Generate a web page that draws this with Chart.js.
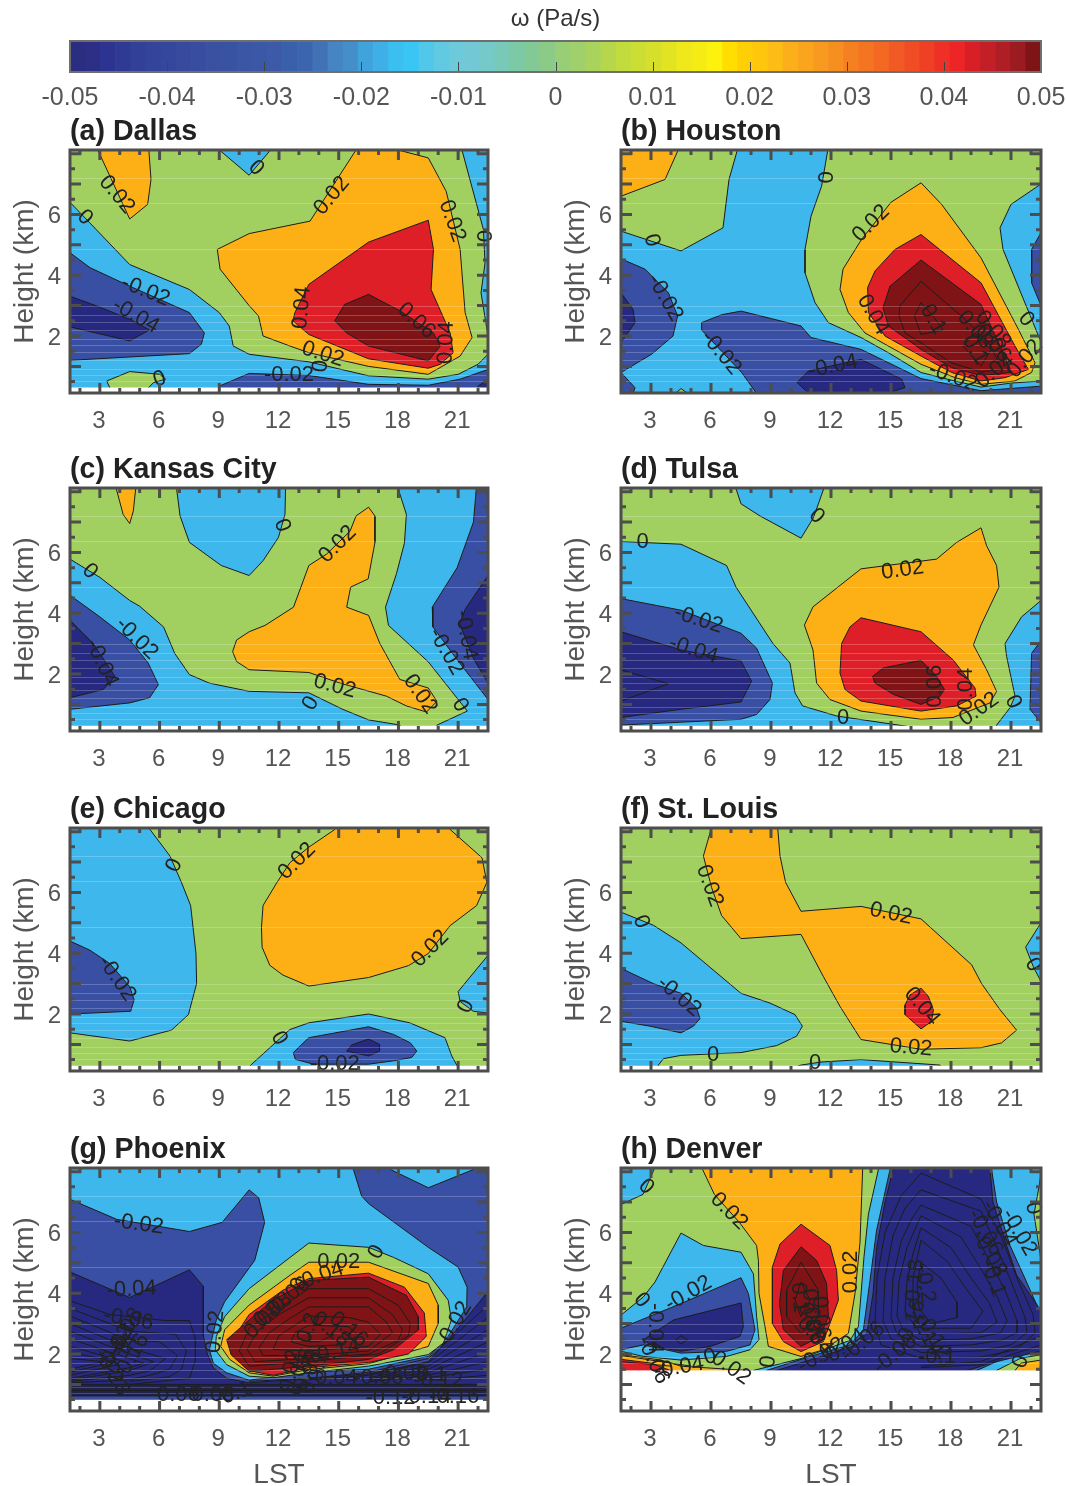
<!DOCTYPE html>
<html>
<head>
<meta charset="utf-8">
<title>omega contours</title>
<script src="https://cdn.jsdelivr.net/npm/chart.js@4"></script>
<style>
  html, body { margin: 0; padding: 0; background: #fff; }
  body { position: relative; width: 1067px; height: 1486px; overflow: hidden; }
  canvas { position: absolute; }
</style>
</head>
<body>
<canvas id="bar" width="1067" height="115" style="left:0;top:0"></canvas>
<canvas id="a" width="530" height="319" style="left:0;top:114px"></canvas>
<canvas id="b" width="516" height="319" style="left:551px;top:114px"></canvas>
<canvas id="c" width="530" height="319" style="left:0;top:452px"></canvas>
<canvas id="d" width="516" height="319" style="left:551px;top:452px"></canvas>
<canvas id="e" width="530" height="319" style="left:0;top:792px"></canvas>
<canvas id="f" width="516" height="319" style="left:551px;top:792px"></canvas>
<canvas id="g" width="530" height="357" style="left:0;top:1132px"></canvas>
<canvas id="h" width="516" height="357" style="left:551px;top:1132px"></canvas>
<script>
const hourTicks = [3, 6, 9, 12, 15, 18, 21];
const heightTicks = [2, 4, 6];
const hourMinor = [2, 3, 4, 5, 6, 7, 8, 9, 10, 11, 12, 13, 14, 15, 16, 17, 18, 19, 20, 21, 22];
const heightMinor = [0.5, 1, 1.5, 2, 2.5, 3, 3.5, 4, 4.5, 5, 5.5, 6, 6.5, 7, 7.5, 8];
const seamHeights = [7.2, 6.36, 4.85, 3, 2.7, 2.46, 2.2, 1.9, 1.7, 1.48, 1.2, 0.92, 0.72, 0.52];

const barTicks = [-0.05, -0.04, -0.03, -0.02, -0.01, 0, 0.01, 0.02, 0.03, 0.04, 0.05];
const barTickLabels = ["-0.05", "-0.04", "-0.03", "-0.02", "-0.01", "0", "0.01", "0.02", "0.03", "0.04", "0.05"];
const barColors = [
  "#2b2e80", "#2c2f85", "#2d3391", "#2f3a94", "#324097", "#34449a", "#35479c", "#374a9e",
  "#384da0", "#3a50a1", "#3953a3", "#3a56a5", "#3b58a7", "#3c5aa8", "#3a5fab", "#3b66af",
  "#4072b5", "#4585c3", "#448fca", "#41a3dc", "#3fb0e7", "#3bbef0", "#39c6f4", "#51c7e9",
  "#62c9e3", "#6ccadb", "#72c8d4", "#75c9c8", "#78c9b7", "#7cc9a6", "#82c996", "#8bcb87",
  "#97ce76", "#9fd06b", "#a9d35d", "#b6d74c", "#c2db3d", "#ccde34", "#d6e02b", "#e2e421",
  "#efe81b", "#f6ec15", "#fdf10e", "#ffde00", "#ffcf06", "#fec70e", "#fdbd16", "#fbb01b",
  "#fba51f", "#f99a20", "#f78e20", "#f58021", "#f47421", "#f36823", "#f15a24", "#f04d24",
  "#ef3f25", "#ee3026", "#ed2527", "#d91f26", "#c31f26", "#ae1e24", "#9a1b20", "#7f1416"
];

// contour bands: upper limit of each band and its fill
const bandLimits = [-0.04, -0.02, 0, 0.02, 0.04, 0.06, 1];
const bandFills = ["#26297f", "#394fa3", "#3db7ec", "#a2d060", "#fdb015", "#df1f27", "#7f1315"];

// each region: [value inside, [hour, km, hour, km, ...]]
const dallasRegions = [
  [0.01, [1.2, 0, 22.8, 0, 22.8, 8.4, 1.2, 8.4]],
  [-0.01, [1.2, 6.4, 1.5, 6.4, 2.5, 5.72, 4.5, 4.35, 7.5, 3.53, 9, 2.77, 9.5, 2.33, 9.7, 1.67, 10.5, 1.4, 13.5, 1.15, 16.5, 0.69, 19.5, 0.58, 21, 0.74, 22, 1.07, 22.5, 1.4, 22.8, 1.4, 22.8, 0, 1.2, 0]],
  [0.01, [3.35, 0.52, 4.5, 0.83, 6, 0.74, 6.3, 0.58, 5.7, 0.47, 5, 0, 3.7, 0]],
  [-0.01, [21.1, 8.4, 21.2, 8.1, 22.27, 5.5, 22.35, 4.4, 22.15, 3.42, 22.5, 2, 22.8, 2, 22.8, 8.4]],
  [-0.01, [8.7, 8.4, 9.04, 8.1, 10.5, 7.29, 11.55, 8.1, 11.9, 8.4]],
  [-0.03, [1.2, 4.74, 1.5, 4.74, 2.5, 4.25, 4.5, 3.64, 7.5, 2.77, 8.25, 2.1, 8.1, 1.73, 7.5, 1.42, 1.5, 1.2, 1.2, 1.2]],
  [-0.05, [1.2, 3.31, 1.5, 3.31, 3, 2.95, 4.5, 2.55, 5.5, 2.2, 4.5, 1.84, 1.5, 2.3, 1.2, 2.3]],
  [-0.03, [8.7, 0, 9, 0.35, 10.5, 0.77, 13.5, 0.7, 16.5, 0.41, 19.5, 0.38, 21.1, 0.58, 22.5, 0.9, 22.8, 0.9, 22.8, 0]],
  [-0.05, [21.8, 0, 22, 0.35, 22.5, 0.58, 22.8, 0.58, 22.8, 0]],
  [0.03, [2.7, 8.4, 4.5, 5.85, 5.4, 6.33, 5.57, 7.15, 5.43, 8.4]],
  [0.03, [15.7, 8.4, 18, 8.4, 18.1, 8.1, 19.5, 7.86, 20.4, 6.76, 21.1, 4.85, 21.35, 2.77, 21.7, 1.95, 21.1, 1.34, 19.5, 0.74, 16.5, 1, 13.5, 1.45, 12.55, 1.67, 11.2, 2, 10.97, 2.66, 10.5, 3, 9.04, 4.2, 8.9, 4.85, 10.5, 5.37, 13.56, 5.78, 15.85, 8.1]],
  [0.05, [19.5, 5.81, 16.5, 5.09, 13.5, 3.7, 12.8, 2.77, 12.7, 2.5, 13.5, 2.05, 16.5, 1.25, 19.5, 0.94, 20.1, 1.07, 20.75, 1.45, 20.6, 2.1, 19.64, 3.53, 19.76, 4.85]],
  [0.07, [16.5, 3.37, 15.3, 3.04, 14.8, 2.5, 15.4, 2.1, 16.5, 1.67, 19.5, 1.18, 20.1, 1.67, 19.76, 2.1, 18.1, 2.82]]
];
const dallasLabels = [
  [3.85, 6.65, "0.02", 50], [2.25, 5.9, "0", 45], [10.85, 7.53, "0", 45], [14.65, 6.62, "0.02", -50],
  [20.7, 5.78, "0.02", 70], [22.27, 5.29, "0", 90], [13.15, 2.93, "0.04", -85], [5.3, 3.48, "-0.02", 22],
  [4.8, 2.66, "-0.04", 30], [18.9, 2.5, "0.06", 42], [20.4, 1.78, "0.04", -88], [14.2, 1.4, "0.02", 18],
  [14.1, 1.01, "0", -85], [12.5, 0.71, "-0.02", 0], [6, 0.58, "0", -20]
];

const houstonRegions = [
  [-0.01, [1.2, 0, 22.8, 0, 22.8, 8.4, 1.2, 8.4]],
  [0.01, [1.2, 5.5, 1.5, 5.45, 4.5, 4.8, 6.6, 5.56, 6.9, 7.15, 7.3, 8.08, 7.4, 8.4, 1.2, 8.4]],
  [0.01, [11.85, 8.4, 11.83, 8.08, 11.53, 6.93, 11, 5.94, 10.7, 4.85, 10.7, 4.08, 11.2, 3.1, 11.87, 2.44, 13.5, 1.95, 14.87, 1.45, 16.5, 0.8, 18, 0.55, 19.5, 0.32, 21, 0.45, 22.5, 0.52, 22.8, 0.52, 22.8, 1.8, 22.5, 1.8, 20.6, 4.85, 20.45, 5.56, 21, 6.33, 22.5, 7, 22.8, 7, 22.8, 8.4]],
  [0.01, [4.2, 0.1, 4.5, 0.27, 4.87, 0.1]],
  [0.03, [1.2, 6.63, 1.5, 6.6, 3.7, 7.15, 4.55, 8.4, 1.2, 8.4]],
  [0.03, [16.5, 7.04, 17.53, 6.33, 19.5, 4.57, 21.37, 2.22, 22.2, 1.12, 22.03, 0.8, 21.2, 0.52, 19.5, 0.41, 18.2, 0.63, 16.5, 1.07, 13.7, 2.1, 12.87, 2.77, 12.45, 3.53, 12.6, 4.2, 13.53, 5.18, 15, 6.4]],
  [0.05, [16.5, 5.34, 15.2, 4.85, 14.2, 4.14, 13.83, 3.59, 13.87, 2.77, 14.7, 2, 16.5, 1.34, 18.03, 0.8, 19.5, 0.52, 20.7, 0.63, 21.87, 0.9, 21.2, 1.67, 19.5, 3.75]],
  [0.07, [16.5, 4.5, 14.95, 3.64, 14.6, 2.93, 14.87, 2.33, 16.5, 1.56, 18.03, 0.96, 19.5, 0.7, 21.03, 0.8, 20.53, 1.56, 19.5, 3.04]],
  [0.09, [16.5, 3.8, 15.45, 3, 15.4, 2.66, 15.7, 2.1, 16.5, 1.78, 18, 1.12, 19.5, 0.82, 20.53, 0.9, 20, 1.67, 18.7, 2.55]],
  [0.1, [16.5, 3.1, 17.1, 2.66, 17.6, 2.2, 16.5, 2.05, 16.17, 2.66]],
  [0.1, [18.6, 1.67, 19.5, 1.01, 20, 1.56, 19.2, 2.1]],
  [-0.03, [1.2, 4.54, 1.5, 4.54, 2.7, 4.2, 3.87, 3.42, 4.33, 2.66, 4.1, 2, 3.03, 1.4, 1.5, 0.8, 2.2, 0.3, 2.05, 0, 1.2, 0]],
  [-0.05, [1.2, 3.42, 1.5, 3.42, 2.1, 2.88, 2.2, 2.44, 1.5, 1.78, 1.2, 1.78]],
  [-0.03, [5.53, 2.44, 6.53, 2.7, 7.5, 2.82, 10.5, 2.33, 11, 1.95, 13.5, 1.56, 16.5, 0.6, 19.5, 0.2, 22.5, 0.35, 22.8, 0.35, 22.8, 0, 8.4, 0, 7.53, 0.8, 5.53, 2.2]],
  [-0.05, [10.3, 0.47, 10.87, 0.85, 13.5, 1.23, 15.53, 0.58, 15.7, 0.3, 14.87, 0.13, 10.87, 0.13]],
  [-0.03, [22.8, 5.4, 22.5, 5.4, 22.03, 4.85, 22.03, 3.75, 22.5, 3, 22.8, 3]]
];
const houstonLabels = [
  [11.67, 7.22, "0", 90], [3.03, 5.15, "0", 75], [14, 5.7, "0.02", -45], [3.7, 3.26, "-0.02", 60],
  [6.5, 1.45, "-0.02", 50], [14.1, 2.7, "0.04", 60], [12.1, 1, "-0.04", -12], [17.1, 2.55, "0.1", 60],
  [18.1, 0.65, "-0.02", 20], [19.2, 2.2, "0.08", 50], [19.2, 1.55, "0.1", 60], [20.1, 1.75, "0.06", 50],
  [20.1, 2.2, "0.08", 50], [20.2, 0.85, "0.04", -40], [21.7, 1.25, "0.02", -50], [21.75, 2.55, "0", 50]
];

const kansasRegions = [
  [0.01, [1.2, 0, 22.8, 0, 22.8, 8.4, 1.2, 8.4]],
  [-0.01, [1.2, 5.78, 1.5, 5.78, 3, 5.18, 4.5, 4.42, 5, 4.23, 6.2, 3.55, 6.76, 2.68, 7.5, 1.98, 8.5, 1.7, 10.5, 1.43, 13.5, 1.38, 15.2, 0.84, 16.5, 0.49, 18.08, 0.32, 18.2, 0, 1.2, 0]],
  [-0.01, [18, 8.4, 18, 8.07, 18.4, 7.25, 18.3, 6.3, 17.9, 5.3, 17.35, 4.2, 17.5, 3.6, 19.5, 2.4, 21.46, 0.78, 19.94, 0.32, 19.7, 0, 22.8, 0, 22.8, 8.4]],
  [-0.01, [6.8, 8.4, 6.86, 8.07, 7.03, 7.2, 7.5, 6.33, 9.1, 5.57, 10.5, 5.24, 11.2, 5.73, 11.97, 6.49, 12.3, 7.25, 12.34, 8.4]],
  [0.03, [3.7, 8.4, 4.17, 7.25, 4.5, 6.95, 4.68, 7.36, 4.85, 8.4]],
  [0.03, [16.5, 7.49, 16.82, 7.2, 16.82, 6.33, 16.48, 5.13, 15.6, 4.86, 15.4, 4.2, 16.5, 3.93, 17.07, 3, 18.07, 1.82, 19.5, 1.54, 19.93, 1.1, 19.41, 0.75, 18.4, 0.95, 17.4, 1.27, 15.07, 1.7, 13.5, 2.05, 10.5, 2.14, 9.87, 2.41, 9.67, 2.74, 9.87, 3.12, 10.5, 3.39, 11.3, 3.6, 12.73, 4.2, 13.5, 5.57, 14.4, 5.95, 15.57, 6.7, 15.87, 7.2]],
  [-0.03, [1.2, 4.59, 1.5, 4.59, 3, 3.88, 4.5, 3.12, 5.43, 2.36, 5.94, 1.65, 5.5, 1.22, 4.5, 1.05, 1.5, 0.84, 1.2, 0.84]],
  [-0.05, [1.2, 3.77, 1.5, 3.77, 2.67, 3, 3.76, 1.92, 3.17, 1.49, 1.5, 1.22, 1.2, 1.22]],
  [-0.03, [21.95, 8.4, 21.77, 7, 20.95, 5.5, 19.7, 4.2, 19.73, 3.55, 20.95, 2.47, 22.5, 1.16, 22.8, 1.16, 22.8, 8.4]],
  [-0.05, [22.8, 5.24, 22.5, 5.24, 21.37, 4.15, 21.07, 3.66, 21.8, 2.47, 22.5, 1.7, 22.8, 1.7]]
];
const kansasLabels = [
  [2.5, 5.38, "0", 45], [12.15, 6.89, "0", 70], [14.95, 6.27, "0.02", -45], [4.85, 3.17, "-0.02", 45],
  [3.1, 2.36, "-0.04", 65], [14.8, 1.6, "0.02", 15], [13.6, 1.03, "0", -60], [19.1, 1.33, "0.02", 55],
  [21.1, 0.98, "0", 60], [20.4, 2.74, "-0.02", 60], [21.4, 3.28, "-0.04", 80]
];

const tulsaRegions = [
  [0.01, [1.2, 0, 22.8, 0, 22.8, 8.4, 1.2, 8.4]],
  [-0.01, [1.2, 6.36, 1.5, 6.36, 4.5, 6.27, 6.78, 5.57, 7.25, 4.86, 9.1, 3, 9.95, 2.36, 10.2, 1.38, 10.58, 0.95, 12.28, 0.62, 13.5, 0.5, 15.8, 0.28, 16, 0, 1.2, 0]],
  [-0.01, [7.1, 8.4, 7.5, 7.6, 8.45, 7.2, 10.5, 6.47, 11.12, 7.14, 11.8, 8.4]],
  [-0.01, [22.8, 4.42, 22.5, 4.42, 21.53, 3.88, 20.7, 3, 20.78, 2.58, 21.2, 1.27, 20.95, 0.89, 20.28, 0.32, 20.1, 0, 22.8, 0]],
  [-0.03, [22.8, 3.1, 22.5, 3.1, 22.03, 2.68, 21.95, 0.84, 22.5, 0.4, 22.8, 0.4]],
  [-0.03, [1.2, 4.48, 1.5, 4.48, 4.5, 4.1, 7.5, 3.34, 8.28, 2.85, 9.07, 1.7, 8.95, 1.16, 8.28, 0.67, 7.5, 0.51, 1.5, 0.32, 1.2, 0.32]],
  [-0.05, [1.2, 3.39, 1.5, 3.39, 4.5, 2.79, 7.5, 2.43, 8.03, 1.76, 7.5, 1.08, 4.5, 0.84, 1.5, 0.57, 1.2, 0.57]],
  [-0.06, [1.2, 2.14, 1.5, 2.14, 3.87, 1.68, 1.5, 1.11, 1.2, 1.11]],
  [0.03, [19.5, 6.81, 18.28, 6.33, 17.28, 5.78, 13.5, 5.46, 11.1, 4.21, 10.67, 3.61, 11.1, 2.79, 11.28, 1.7, 11.95, 1.16, 13.5, 0.78, 16.5, 0.51, 18.1, 0.57, 19.95, 1.05, 20.28, 1.43, 19.78, 2.14, 19.12, 2.96, 19.5, 3.61, 20.4, 4.86, 20.28, 5.57, 19.78, 6.22]],
  [0.05, [13.5, 3.85, 12.95, 3.55, 12.53, 3, 12.45, 2.03, 12.7, 1.49, 13.5, 1.11, 16.5, 0.78, 18.28, 0.95, 19.25, 1.27, 19.2, 1.54, 18.1, 2.47, 16.5, 3.39]],
  [0.07, [14.08, 1.92, 14.62, 2.2, 16.5, 2.45, 17.28, 1.92, 17.67, 1.49, 17.45, 1.27, 16.5, 1, 15.12, 1.33, 14.2, 1.7]]
];
const tulsaLabels = [
  [11.28, 7.2, "0", 45], [2.58, 6.33, "0", 0], [15.58, 5.42, "0.02", -8], [5.37, 3.79, "-0.02", 18],
  [5.12, 2.79, "-0.04", 18], [17.2, 1.6, "0.06", -90], [18.75, 1.5, "0.04", -90], [19.4, 0.84, "0.02", -35],
  [21.1, 1.08, "0", 65], [12.6, 0.57, "0", 0]
];

const chicagoRegions = [
  [0.01, [1.2, 0, 22.8, 0, 22.8, 8.4, 1.2, 8.4]],
  [-0.01, [5.3, 8.4, 5.52, 8.07, 6.52, 7.2, 7.1, 6.33, 7.56, 5.57, 7.83, 3.99, 7.86, 3, 7.45, 1.98, 6.6, 1.47, 4.5, 1.11, 1.5, 1.38, 1.2, 1.38, 1.2, 8.4]],
  [-0.03, [1.2, 4.4, 1.5, 4.4, 2.5, 4.1, 3.5, 3.66, 4.5, 2.9, 4.72, 2.47, 4.55, 2.09, 1.5, 2, 1.2, 2]],
  [0.03, [14.6, 8.4, 14.8, 8.07, 13.5, 7.49, 12.55, 6.98, 11.9, 6.33, 11.2, 5.57, 11.12, 4.86, 11.15, 4.2, 11.54, 3.6, 12.2, 3.28, 13.5, 2.92, 16.5, 3.2, 18.5, 3.59, 19.5, 3.99, 20.6, 4.91, 21.93, 5.57, 22.44, 6.33, 22.2, 7.14, 20.6, 8.07, 20.5, 8.4]],
  [-0.01, [22.8, 3.93, 22.5, 3.93, 21, 2.74, 21.1, 2.41, 21.76, 2.09, 22.5, 2.03, 22.8, 2.03]],
  [-0.01, [10.3, 0, 10.58, 0.32, 12.55, 1.49, 13.5, 1.71, 16.5, 2, 18.57, 1.71, 20.34, 1.22, 20.68, 0.62, 20.93, 0.32, 21, 0]],
  [-0.03, [12.72, 0.73, 13.06, 0.95, 13.5, 1.22, 16.5, 1.58, 17.75, 1.33, 18.6, 1.05, 18.92, 0.78, 18.67, 0.57, 17.75, 0.46, 16.5, 0.35, 13.73, 0.35, 12.82, 0.51]],
  [-0.05, [15.4, 0.78, 15.65, 0.98, 16.5, 1.18, 17.05, 1, 17.05, 0.78, 16.5, 0.62]]
];
const chicagoLabels = [
  [6.74, 6.89, "0", -65], [12.9, 7.03, "0.02", -45], [3.85, 3.17, "-0.02", 55], [19.6, 4.15, "0.02", -45],
  [21.4, 2.25, "0", -65], [12, 1.2, "0", 60], [14.8, 0.35, "-0.02", 0]
];

const stLouisRegions = [
  [0.01, [1.2, 0, 22.8, 0, 22.8, 8.4, 1.2, 8.4]],
  [-0.01, [1.2, 5.35, 1.5, 5.35, 3.12, 4.92, 4.5, 4.34, 7.5, 2.68, 8.95, 2.36, 10.2, 1.98, 10.57, 1.6, 10.28, 1.27, 9.28, 0.96, 7.5, 0.73, 4.5, 0.64, 3.62, 0.53, 3.37, 0.32, 3.3, 0, 1.2, 0]],
  [-0.03, [1.2, 3.5, 1.5, 3.5, 3.12, 3, 4.5, 2.68, 5.28, 2.2, 5.45, 1.85, 5.12, 1.6, 4.5, 1.38, 2.95, 1.6, 1.5, 1.76, 1.2, 1.76]],
  [0.03, [5.95, 8.4, 6, 8.07, 5.62, 7.2, 6.03, 6.16, 6.53, 5.24, 7.5, 4.48, 10.5, 4.62, 11.62, 3.23, 12.45, 2.25, 13.5, 1.16, 16.5, 0.84, 19.5, 0.89, 20.53, 1.05, 21.28, 1.47, 20.45, 2.14, 19.53, 3, 19.03, 3.62, 16.5, 5.13, 13.5, 5.54, 10.5, 5.38, 9.73, 6.33, 9.45, 7.2, 9.3, 8.4]],
  [0.05, [16.5, 2.85, 15.95, 2.63, 15.7, 2.3, 15.7, 1.98, 16.5, 1.51, 17.03, 1.76, 17.12, 2.14, 16.87, 2.58]],
  [-0.01, [22.8, 5, 22.5, 5, 21.73, 4.2, 22.12, 3.55, 22.5, 3.07, 22.8, 3.07]],
  [-0.01, [9.8, 0.15, 10.5, 0.32, 11.5, 0.42, 13.5, 0.5, 17.45, 0.32, 17.6, 0, 9.8, 0]]
];
const stLouisLabels = [
  [5.93, 6.22, "0.02", 70], [2.5, 5.04, "0", 70], [15, 5.3, "0.02", 12], [4.4, 2.58, "-0.02", 40],
  [6.1, 0.64, "0", 0], [11.2, 0.4, "0", 0], [16.55, 2.25, "0.04", 50], [16, 0.89, "0.02", 5], [22.1, 3.62, "0", 60]
];

const phoenixRegions = [
  [-0.03, [1.2, 0, 22.8, 0, 22.8, 8.4, 1.2, 8.4]],
  [-0.01, [1.2, 7.09, 1.5, 7.09, 3.85, 6.43, 7.5, 6.03, 9.14, 6.33, 10.5, 7.4, 10.98, 7.14, 11.28, 6.33, 10.78, 5.08, 9.27, 3.72, 8.85, 3.12, 8.5, 2.14, 8.7, 1.7, 9.37, 1.38, 10.5, 1.14, 13.5, 1.4, 16.5, 1.5, 19.5, 1.92, 20.5, 2.58, 21.43, 3.55, 21.45, 4.2, 21, 4.86, 19.5, 5.51, 16.5, 6.95, 16.15, 7.2, 15.74, 8.07, 15.7, 8.4, 1.2, 8.4]],
  [-0.01, [17.4, 8.4, 17.6, 8.07, 19.5, 7.47, 21.77, 8.07, 22, 8.4]],
  [0.01, [13.5, 5.65, 16.5, 5.51, 17.75, 5.18, 19.5, 4.64, 20.5, 3.77, 20.66, 3.12, 20.26, 2.36, 19.5, 1.98, 16.5, 1.6, 13.5, 1.38, 11.7, 1.22, 10.5, 1.27, 9.37, 1.65, 8.8, 2.14, 8.85, 2.58, 9.27, 3.23, 10.5, 4.15]],
  [0.03, [13.5, 5.02, 16.5, 5.02, 19.5, 4.32, 20, 3.61, 20, 3.01, 19.5, 2.25, 16.5, 1.68, 13.5, 1.49, 11.7, 1.27, 10.5, 1.38, 9.53, 1.82, 9.07, 2.25, 9.27, 2.8, 10.5, 3.61, 12.55, 4.59]],
  [0.05, [13.5, 4.48, 16.5, 4.66, 18.3, 4.2, 19.3, 3.35, 19.4, 2.58, 18.5, 2, 16.5, 1.72, 13.5, 1.55, 11.7, 1.3, 10.5, 1.45, 9.6, 2, 9.75, 2.55, 10.5, 3.3, 12.2, 4.1]],
  [0.07, [13.5, 4.42, 16.5, 4.53, 18.4, 3.93, 19, 3.23, 19, 2.79, 17.75, 2.14, 16.5, 1.82, 13.5, 1.6, 10.5, 1.43, 9.6, 1.97, 9.37, 2.47, 10.5, 3.12, 11.7, 3.77]],
  [0.08, [13.5, 4.15, 16.5, 4.15, 18, 3.6, 18.6, 3, 18.5, 2.6, 17, 2, 13.5, 1.75, 10.5, 1.6, 10, 2.1, 10.5, 2.85, 12, 3.5]],
  [0.1, [13.5, 3.85, 16.5, 3.85, 17.7, 3.3, 18.2, 2.8, 18, 2.45, 16.5, 2, 13.5, 1.85, 10.8, 1.75, 10.4, 2.15, 10.9, 2.75, 12, 3.3]],
  [0.12, [13.5, 3.55, 16.5, 3.55, 17.4, 3.05, 17.7, 2.7, 16.5, 2.1, 13.5, 1.95, 11.2, 1.95, 11, 2.2, 11.5, 2.7, 12.5, 3.15]],
  [0.14, [13.5, 3.25, 15.5, 3.2, 16.5, 3.05, 17.1, 2.65, 16.5, 2.25, 13.5, 2.1, 11.7, 2.15, 12, 2.6]],
  [0.16, [13.5, 2.95, 15.5, 2.9, 16, 2.6, 15, 2.3, 13.5, 2.25, 12.6, 2.4, 12.8, 2.7]],
  [0.18, [13.5, 2.7, 14.8, 2.65, 14, 2.4, 13.5, 2.4]],
  [-0.05, [1.2, 4.7, 1.5, 4.7, 4.5, 3.86, 7.5, 4.77, 8.2, 4.23, 8.2, 2.6, 8.4, 2, 8.7, 1.55, 9.37, 1.2, 10.5, 1.05, 13.5, 1.2, 16.5, 1.35, 19.5, 1.75, 21, 2.85, 22.5, 4.06, 22.8, 4.06, 22.8, 0, 1.2, 0]],
  [-0.03, [1.2, 0.62, 22.8, 0.62, 22.8, 0.4, 1.2, 0.4]]
];
const phoenixLines = [
  [1.5, 3.75, 3.5, 3.3, 6.3, 3.1, 7.5, 3.1, 7.8, 2.5, 7.8, 1.8, 7.5, 1.2, 4.5, 1],
  [1.5, 3.5, 4.5, 2.75, 6.8, 2.65, 7.35, 2.1, 7.1, 1.5, 6.5, 1.25, 4.5, 1.1],
  [1.5, 3.25, 4.5, 2.45, 6, 2.4, 6.9, 1.95, 6.5, 1.5, 5.5, 1.3, 4.5, 1.15, 1.5, 1.05],
  [1.5, 3, 4.5, 2.2, 6.3, 1.85, 5.5, 1.45, 4.5, 1.3, 1.5, 1.1],
  [1.5, 2.75, 4.5, 2, 5.7, 1.75, 4.5, 1.45, 1.5, 1.15],
  [1.5, 2.5, 4.5, 1.85, 5.2, 1.7, 4.5, 1.55, 1.5, 1.2],
  [1.5, 2.25, 4.4, 1.72, 1.5, 1.3],
  [1.5, 2.05, 3.8, 1.75, 1.5, 1.4],
  [1.5, 1.85, 3.2, 1.75, 1.5, 1.5],
  [22.5, 3.6, 19.5, 1.85, 16.5, 1.4, 13.5, 1.2, 10.5, 1.1],
  [22.5, 3.2, 19.5, 1.72, 16.5, 1.3, 13.5, 1.15],
  [22.5, 2.8, 19.5, 1.6, 16.5, 1.22],
  [22.5, 2.4, 19.5, 1.5, 16.5, 1.17],
  [22.5, 2.05, 19.5, 1.4, 16.5, 1.12],
  [22.5, 1.75, 19.5, 1.3, 16.5, 1.08],
  [22.5, 1.5, 19.5, 1.22],
  [22.5, 1.3, 19.5, 1.14],
  [1.5, 1, 22.5, 1], [1.5, 0.95, 22.5, 0.95], [1.5, 0.9, 22.5, 0.9], [1.5, 0.85, 22.5, 0.85],
  [1.5, 0.8, 22.5, 0.8], [1.5, 0.75, 22.5, 0.75], [1.5, 0.7, 22.5, 0.7], [1.5, 0.65, 22.5, 0.65]
];
const phoenixLabels = [
  [4.95, 6.27, "-0.02", 8], [4.6, 4.12, "-0.04", -3], [4.43, 3.14, "-0.06", 10], [4.3, 2.75, "-0.08", -60],
  [4.1, 2.5, "-0.1", -60], [3.8, 2.2, "-0.12", -60], [4, 1.9, "-0.14", -60], [4.6, 1.9, "-0.16", -60], [3.6, 1.4, "-0.23", 60],
  [8.8, 2.74, "0.02", -85], [20.8, 2.96, "-0.02", -60], [16.9, 5.35, "0", -60], [15, 5.02, "0.02", 0],
  [13, 4.3, "0", -70], [14.2, 4.6, "0.04", -20], [12.6, 3.95, "0.06", -40], [11.7, 3.45, "0.08", -40],
  [11.2, 3.1, "0.08", -45], [13.5, 2.85, "0.2", -70], [14.6, 2.8, "0.18", 40], [15.5, 2.8, "0.16", 40],
  [15, 2.1, "0.14", -15], [12.6, 1.45, "0.02", -80], [13, 1.35, "0.04", -80], [13.3, 1.5, "0.06", -80],
  [13.6, 1.4, "0.08", -80], [14, 1.6, "0.1", -80], [14.7, 1.2, "-0.04", 0], [17, 1.2, "-0.06", 0],
  [18.2, 1.35, "-0.08", 0], [19.5, 1.3, "-0.1", 0], [20, 1.1, "-0.12", 0], [6.76, 0.64, "-0.06", 0],
  [8.5, 0.64, "-0.08", 0], [9.7, 0.67, "-0.1", -20], [17.6, 0.55, "-0.12", 0], [19.4, 0.58, "-0.14", 0], [20.8, 0.58, "-0.16", 0]
];

const denverRegions = [
  [0.01, [1.2, 0, 22.8, 0, 22.8, 8.4, 1.2, 8.4]],
  [-0.01, [1.2, 6.92, 1.5, 6.92, 2.6, 7.25, 3.15, 8.07, 3.2, 8.4, 1.2, 8.4]],
  [0.03, [5.45, 8.4, 5.58, 8.07, 6.17, 7.25, 7.42, 6.33, 8.28, 5.57, 8.37, 5.08, 8.4, 3.99, 8.7, 2.9, 8.87, 2.25, 10.5, 1.92, 11.62, 2.14, 12.87, 2.68, 13.2, 3.99, 13.45, 5.67, 13.6, 8.4]],
  [0.05, [10.5, 6.27, 9.45, 5.62, 9.07, 4.86, 9.07, 3, 9.62, 2.41, 10.5, 2.08, 11.62, 2.41, 12.37, 3.77, 12.28, 4.75, 11.95, 5.57]],
  [0.07, [10.5, 5.53, 9.62, 4.75, 9.42, 3.66, 9.62, 2.8, 10.5, 2.25, 11.45, 2.58, 11.87, 3.23, 11.78, 4.32, 11.28, 5.08]],
  [0.09, [10.5, 5.02, 9.78, 4.1, 9.78, 3.23, 10.5, 2.68, 11.37, 3.23, 11.37, 4.1]],
  [0.1, [10.5, 4.37, 10.2, 3.77, 10.5, 3.23, 10.95, 3.77]],
  [-0.01, [1.2, 3.28, 1.5, 3.28, 2.62, 3.88, 3.2, 4.37, 4.5, 5.98, 5.62, 5.57, 7.5, 5.35, 8.12, 4.64, 8.28, 3.23, 8.4, 2.47, 7.95, 2.14, 6.78, 1.92, 4.5, 1.8, 2.62, 1.92, 1.5, 2.09, 1.2, 2.09]],
  [-0.03, [1.2, 2.85, 1.5, 2.85, 4.5, 3.66, 7.5, 4.51, 7.87, 3.99, 8.2, 2.8, 7.95, 2.3, 6.78, 2.09, 4.5, 2.03, 2.62, 2.3, 1.5, 2.14, 1.2, 2.14]],
  [-0.05, [2.62, 2.47, 4.12, 3.12, 7.5, 3.68, 7.62, 2.9, 7.45, 2.58, 5.95, 2.25, 4.5, 2.09, 3.12, 2.25]],
  [-0.06, [4.23, 2.47, 4.5, 2.6, 4.82, 2.47, 4.5, 2.33]],
  [0.03, [1.2, 1.98, 1.5, 1.98, 3.5, 1.8, 4.5, 1.6, 8, 1.45, 8, 1, 1.2, 1]],
  [0.05, [1.2, 1.85, 3, 1.7, 4, 1.45, 4, 1, 1.2, 1]],
  [-0.01, [14.37, 8.4, 14.37, 8.07, 13.87, 6.6, 13.65, 5.2, 13.37, 2.9, 12.95, 2.45, 10.5, 1.85, 8.12, 1.46, 8, 1, 19.7, 1, 20.28, 1.46, 21.45, 1.85, 22.5, 1.98, 22.8, 1.98, 22.8, 8.4]],
  [0.01, [22.8, 8.4, 22.6, 8.4, 22.4, 7.5, 22.15, 6.6, 22.5, 5.1, 22.8, 5.1]],
  [-0.03, [14.95, 8.4, 14.95, 8.07, 14.28, 6.07, 13.95, 4.42, 13.62, 2.8, 12.95, 2.3, 10.95, 1.92, 8.78, 1.46, 8.7, 1, 19.5, 1, 19.3, 1.46, 20.95, 1.95, 22.5, 2.05, 22.8, 2.05, 22.8, 3.3, 22.5, 3.3, 21.62, 4.6, 20.95, 5.57, 20.28, 7, 20.03, 8.07, 20, 8.4]],
  [-0.05, [15.1, 8.4, 15.1, 8.07, 14.7, 7, 14.28, 5.5, 14.1, 3.99, 13.8, 2.7, 13.3, 2.3, 10.95, 1.8, 9.28, 1.46, 9.2, 1, 18.7, 1, 18.8, 1.46, 20.28, 1.75, 22.5, 2.1, 22.8, 2.1, 22.8, 3.1, 22.28, 3.64, 21.28, 4.6, 20.78, 5.57, 20.1, 7, 19.95, 8.07, 19.9, 8.4]],
  [-0.06, [16.5, 7.95, 19.5, 7.1, 20.5, 5.9, 21.3, 4.5, 22.1, 3.3, 22.2, 2.7, 21.3, 2.15, 19.5, 1.9, 16.5, 1.85, 14.5, 2.3, 14.2, 3, 14.3, 4.5, 14.7, 6, 15.5, 7.2]],
  [-0.08, [16.5, 7.4, 19.5, 6.7, 20.3, 5.5, 21, 4.4, 21.7, 3.2, 21.8, 2.7, 21, 2.3, 19.5, 2.1, 16.5, 2.05, 15, 2.5, 14.6, 3.1, 14.7, 4.5, 15.1, 5.9, 15.7, 6.8]],
  [-0.1, [16.5, 6.9, 19, 6.2, 19.9, 5.1, 20.7, 4.1, 21.3, 3.1, 21.3, 2.7, 20.5, 2.45, 19, 2.3, 16.5, 2.25, 15.3, 2.65, 15, 3.2, 15.1, 4.5, 15.5, 5.7, 16, 6.4]],
  [-0.12, [16.5, 6.55, 18.5, 5.85, 19.5, 4.8, 20.3, 3.9, 20.8, 3.1, 20.5, 2.7, 19, 2.5, 16.5, 2.45, 15.6, 2.8, 15.3, 3.25, 15.4, 4.4, 15.8, 5.5]],
  [-0.14, [16.5, 6.15, 18, 5.5, 19, 4.5, 19.9, 3.7, 20.3, 3.05, 19.5, 2.7, 16.5, 2.65, 15.7, 3.4, 15.8, 4.4, 16.1, 5.3]],
  [-0.16, [16.5, 5.75, 17.8, 5.05, 18.7, 4.2, 19.6, 3.4, 19, 2.85, 16.5, 2.85, 16.1, 3.5, 16.1, 4.5]],
  [-0.18, [16.5, 5, 17.5, 4.5, 18.3, 3.7, 18.3, 3.2, 17, 3, 16.4, 3.5, 16.3, 4.3]],
  [0.03, [21.2, 1.46, 21.5, 1.7, 22.5, 1.8, 22.8, 1.8, 22.8, 1, 21.2, 1]],
  [0.05, [22.45, 1.46, 22.5, 1.75, 22.8, 1.75, 22.8, 1, 22.45, 1]]
];
const denverLines = [
  [22.5, 2.6, 19.5, 1.75, 16.5, 1.6],
  [22.5, 2.3, 19.5, 1.65, 16.5, 1.55],
  [1.5, 1.75, 4, 1.6],
  [1.5, 1.95, 5, 1.6]
];
const denverLabels = [
  [2.75, 7.5, "0", 45], [6.9, 6.7, "0.02", 45], [13, 4.7, "0.02", -90], [2.53, 3.77, "0", 50],
  [4.87, 3.99, "-0.02", -30], [3.2, 2.85, "-0.04", 90], [3.1, 1.8, "-0.06", 65], [4.4, 1.55, "-0.04", -10],
  [5.95, 1.9, "0", -15], [7, 1.54, "0.02", 35], [8.87, 1.75, "0", -85], [10.4, 3.85, "0.1", 85],
  [11, 3.45, "0.08", 85], [11.5, 3.2, "0.06", 85], [11.2, 2.6, "0.04", 50], [11, 3, "0.08", 70],
  [11.5, 1.96, "-0.02", -30], [12.6, 2.2, "-0.04", -35], [13.6, 2.4, "-0.06", -40], [15.2, 2, "-0.08", -40],
  [17.3, 1.92, "-0.1", 0], [16.2, 4.3, "-0.18", -85], [16.7, 4.3, "-0.2", 80], [16, 3, "-0.16", -70],
  [16.7, 2.7, "-0.14", 60], [17.1, 2.6, "-0.12", 60], [20.1, 4.5, "-0.1", 70], [19.9, 5.3, "-0.08", 60],
  [19.7, 6, "-0.06", 60], [20.4, 6.3, "-0.04", 60], [21.4, 6, "-0.02", 60], [22.1, 6.8, "0", 80], [21.5, 1.75, "0", -70]
];

const panelIds = ["a", "b", "c", "d", "e", "f", "g", "h"];
const panelTitles = ["(a) Dallas", "(b) Houston", "(c) Kansas City", "(d) Tulsa", "(e) Chicago", "(f) St. Louis", "(g) Phoenix", "(h) Denver"];
const panelRegions = [dallasRegions, houstonRegions, kansasRegions, tulsaRegions, chicagoRegions, stLouisRegions, phoenixRegions, denverRegions];
const panelLabels = [dallasLabels, houstonLabels, kansasLabels, tulsaLabels, chicagoLabels, stLouisLabels, phoenixLabels, denverLabels];
const panelLines = [[], [], [], [], [], [], phoenixLines, denverLines];
const panelFloors = [0.31, 0, 0.3, 0.3, 0.3, 0.3, 0.49, 1.46];

const sans = "'Liberation Sans', Arial, sans-serif";
const inkGray = "#555555";
const frameGray = "#4d4d4d";

const toPoints = (flat) => {
  let pts = [];
  for (let i = 0; i < flat.length; i += 2) pts.push({ x: flat[i], y: flat[i + 1] });
  return pts;
};

const fillFor = (value) => bandFills[bandLimits.findIndex((top) => value <= top)];

const regionDataset = (points, color, stroke) => ({
  data: points,
  showLine: true,
  pointRadius: 0,
  tension: 0,
  fill: color ? "shape" : false,
  backgroundColor: color || "transparent",
  borderColor: stroke ? "#1c1c1c" : "transparent",
  borderWidth: stroke ? 1 : 0,
});

const buildDatasets = (index) => {
  let sets = [];
  panelRegions[index].forEach(([value, flat]) => {
    let pts = toPoints(flat);
    pts.push(pts[0]);
    sets.push(regionDataset(pts, fillFor(value), true));
  });
  panelLines[index].forEach((flat) => sets.push(regionDataset(toPoints(flat), null, true)));
  let floor = panelFloors[index];
  if (floor > 0) {
    sets.push(regionDataset(toPoints([1, -1, 23, -1, 23, floor, 1, floor, 1, -1]), "#ffffff", false));
  }
  // chart.js paints the lowest order last, so count down to keep the list order
  sets.forEach((set, i) => { set.order = sets.length - i; });
  return sets;
};

// thin pale seams the contour patches leave behind in the original figure
const seamPlugin = {
  id: "seams",
  afterDatasetsDraw(chart, args, opts) {
    const { ctx, chartArea: area, scales } = chart;
    ctx.save();
    ctx.strokeStyle = "rgba(255,255,255,0.22)";
    ctx.lineWidth = 1;
    seamHeights.filter((h) => h > opts.floor).forEach((h) => {
      let y = Math.round(scales.y.getPixelForValue(h)) + 0.5;
      ctx.beginPath();
      ctx.moveTo(area.left, y);
      ctx.lineTo(area.right, y);
      ctx.stroke();
    });
    ctx.restore();
  },
};

const labelPlugin = {
  id: "contourLabels",
  afterDatasetsDraw(chart, args, opts) {
    const { ctx, scales } = chart;
    ctx.save();
    ctx.font = "22px " + sans;
    ctx.fillStyle = "#222222";
    ctx.textAlign = "center";
    ctx.textBaseline = "middle";
    opts.items.forEach(([hour, km, text, angle]) => {
      ctx.save();
      ctx.translate(scales.x.getPixelForValue(hour), scales.y.getPixelForValue(km));
      ctx.rotate((angle * Math.PI) / 180);
      ctx.fillText(text, 0, 0);
      ctx.restore();
    });
    ctx.restore();
  },
};

const framePlugin = {
  id: "frameTicks",
  afterDraw(chart) {
    const { ctx, chartArea: area, scales } = chart;
    ctx.save();
    ctx.strokeStyle = frameGray;
    ctx.lineWidth = 3;
    ctx.strokeRect(area.left, area.top, area.right - area.left, area.bottom - area.top);
    hourMinor.forEach((hour) => {
      let x = scales.x.getPixelForValue(hour);
      let len = hour % 3 === 0 ? 10 : 5;
      ctx.beginPath();
      ctx.moveTo(x, area.top);
      ctx.lineTo(x, area.top + len);
      ctx.moveTo(x, area.bottom);
      ctx.lineTo(x, area.bottom - len);
      ctx.stroke();
    });
    heightMinor.forEach((km) => {
      let y = scales.y.getPixelForValue(km);
      let len = km % 1 === 0 ? 11 : 5;
      ctx.beginPath();
      ctx.moveTo(area.left, y);
      ctx.lineTo(area.left + len, y);
      ctx.moveTo(area.right, y);
      ctx.lineTo(area.right - len, y);
      ctx.stroke();
    });
    ctx.restore();
  },
};

const zeroPadding = (scale) => {
  scale.paddingLeft = 0;
  scale.paddingRight = 0;
  scale.paddingTop = 0;
  scale.paddingBottom = 0;
};

const makePanel = (id, index) => {
  let bottomRow = index >= 6;
  let isRight = index % 2 === 1;
  return new Chart(document.getElementById(id), {
    type: "scatter",
    data: { datasets: buildDatasets(index) },
    options: {
      responsive: false,
      animation: false,
      events: [],
      layout: { padding: { left: 0, right: isRight ? 26 : 42, top: 0, bottom: 0 } },
      plugins: {
        legend: { display: false },
        tooltip: { enabled: false },
        title: {
          display: true,
          text: panelTitles[index],
          align: "start",
          fullSize: false,
          color: "#222222",
          font: { family: sans, size: 28.6, weight: "bold", lineHeight: 1 },
          padding: { top: 4, bottom: 3.4 },
        },
        seams: { floor: panelFloors[index] },
        contourLabels: { items: panelLabels[index] },
      },
      scales: {
        x: {
          type: "linear",
          min: 1.5,
          max: 22.5,
          grid: { display: false, drawTicks: false },
          border: { display: false },
          afterBuildTicks: (axis) => { axis.ticks = hourTicks.map((value) => ({ value })); },
          afterFit: (axis) => { axis.height = bottomRow ? 78 : 40; zeroPadding(axis); },
          ticks: { color: inkGray, font: { family: sans, size: 24 }, padding: 14, labelOffset: -1, maxRotation: 0, autoSkip: false },
          title: { display: bottomRow, text: "LST", color: inkGray, font: { family: sans, size: 28, lineHeight: 1 }, padding: 0 },
        },
        y: {
          type: "linear",
          min: 0.125,
          max: 8.12,
          grid: { display: false, drawTicks: false },
          border: { display: false },
          afterBuildTicks: (axis) => { axis.ticks = heightTicks.map((value) => ({ value })); },
          afterFit: (axis) => { axis.width = 70; zeroPadding(axis); },
          ticks: { color: inkGray, font: { family: sans, size: 24 }, padding: 9, labelOffset: 2 },
          title: { display: true, text: "Height (km)", color: inkGray, font: { family: sans, size: 28, lineHeight: 1 }, padding: { top: 11, bottom: 0 } },
        },
      },
    },
    plugins: [seamPlugin, labelPlugin, framePlugin],
  });
};

panelIds.forEach(makePanel);

// colour bar on top: one bar per colormap step, value axis underneath
const barFrame = {
  id: "barFrame",
  afterDraw(chart) {
    const { ctx, chartArea: area, scales } = chart;
    ctx.save();
    ctx.strokeStyle = "#444444";
    ctx.lineWidth = 1;
    barTicks.slice(1, -1).forEach((value) => {
      let x = Math.round(scales.x2.getPixelForValue(value)) + 0.5;
      ctx.beginPath();
      ctx.moveTo(x, area.bottom);
      ctx.lineTo(x, area.bottom - 10);
      ctx.stroke();
    });
    ctx.strokeStyle = "#6e6e6e";
    ctx.lineWidth = 2;
    ctx.strokeRect(area.left, area.top, area.right - area.left, area.bottom - area.top);
    ctx.restore();
  },
};

new Chart(document.getElementById("bar"), {
  type: "bar",
  data: {
    labels: barColors.map((c, i) => i),
    datasets: [{
      data: barColors.map(() => 1),
      backgroundColor: barColors,
      categoryPercentage: 1,
      barPercentage: 1,
      borderWidth: 0,
      xAxisID: "x",
    }],
  },
  options: {
    responsive: false,
    animation: false,
    events: [],
    layout: { padding: { left: 70, right: 26, top: 0, bottom: 0 } },
    plugins: {
      legend: { display: false },
      tooltip: { enabled: false },
      title: {
        display: true,
        text: "ω (Pa/s)",
        color: "#333333",
        font: { family: sans, size: 24, weight: "normal", lineHeight: 1 },
        padding: { top: 7, bottom: 10 },
      },
    },
    scales: {
      x: { display: false },
      y: { display: false, min: 0, max: 1 },
      x2: {
        type: "linear",
        position: "bottom",
        offset: false,
        min: -0.05,
        max: 0.05,
        grid: { display: false, drawTicks: false },
        border: { display: false },
        afterBuildTicks: (axis) => { axis.ticks = barTicks.map((value) => ({ value })); },
        afterFit: (axis) => { axis.height = 43; zeroPadding(axis); },
        ticks: {
          color: inkGray,
          font: { family: sans, size: 25 },
          padding: 11,
          maxRotation: 0,
          autoSkip: false,
          callback: (value, i) => barTickLabels[i],
        },
      },
    },
  },
  plugins: [barFrame],
});
</script>
</body>
</html>
